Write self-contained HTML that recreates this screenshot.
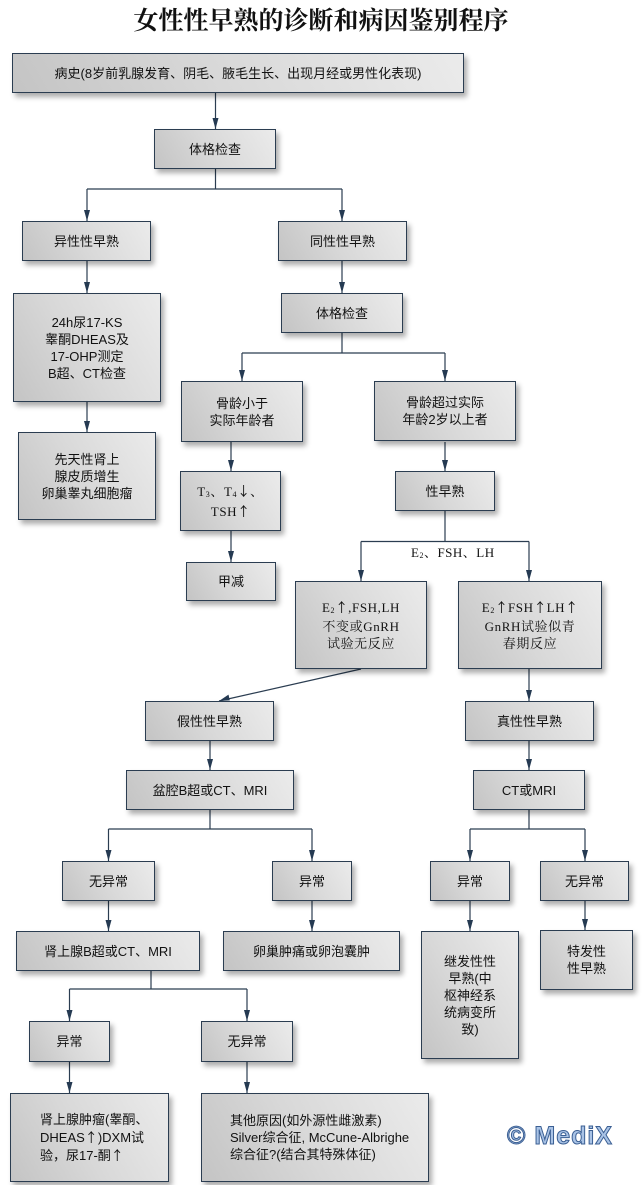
<!DOCTYPE html>
<html><head><meta charset="utf-8">
<style>
html,body{margin:0;padding:0;background:#fff;}
body{width:642px;height:1185px;position:relative;overflow:hidden;font-family:"Liberation Sans","Noto Sans CJK SC",sans-serif;color:#111;}
.t{position:absolute;left:0;width:642px;top:8px;text-align:center;font-family:"Liberation Serif","Noto Serif CJK SC",serif;font-size:25px;line-height:28px;font-weight:bold;color:#111;}
.b{position:absolute;box-sizing:border-box;border:1px solid #2b3d51;background:linear-gradient(60deg,#c4c4c4 0%,#d8d8d8 45%,#ebebeb 100%);box-shadow:3px 4px 5px rgba(0,0,0,0.33);display:flex;align-items:center;justify-content:center;text-align:center;font-size:13px;line-height:17px;}
.b > span{display:block;}
.s{font-family:"Liberation Serif","Noto Serif CJK SC",serif;letter-spacing:0.6px;}
.ar{font-family:"Noto Sans CJK SC",sans-serif;letter-spacing:0;}
.l{justify-content:flex-start;text-align:left;}
sub{font-size:8px;vertical-align:baseline;position:relative;top:1px;}
svg{position:absolute;left:0;top:0;}
.lbl{position:absolute;font-family:"Liberation Serif","Noto Serif CJK SC",serif;font-size:13px;line-height:15px;letter-spacing:0.5px;}
.wm{position:absolute;left:507px;top:1121px;font-family:"Liberation Sans",sans-serif;font-weight:bold;font-size:25px;line-height:30px;letter-spacing:1px;color:#a9c3e6;-webkit-text-stroke:1px #3b5f93;}
</style></head><body>
<div class="t">女性性早熟的诊断和病因鉴别程序</div>

<svg width="642" height="1185" viewBox="0 0 642 1185">
<g stroke="#2b3d51" stroke-width="1.2" fill="none">
<path d="M215.5 93V129"/>
<path d="M215.5 169V189M87 189H342M87 189V221M342 189V221"/>
<path d="M87 261V293"/>
<path d="M342 261V293"/>
<path d="M87 402V432"/>
<path d="M342 333V353M242 353H445M242 353V381M445 353V381"/>
<path d="M231 442V471"/>
<path d="M231 531V562"/>
<path d="M445 442V471"/>
<path d="M445 511V541.5M361 541.5H529M361 541.5V581M529 541.5V581"/>
<path d="M361 669L219 701"/>
<path d="M529 669V701"/>
<path d="M210 741V770"/>
<path d="M529 741V770"/>
<path d="M210 810V829M108.5 829H312M108.5 829V861M312 829V861"/>
<path d="M529 810V829M470 829H585M470 829V861M585 829V861"/>
<path d="M108.5 901V931"/>
<path d="M312 901V931"/>
<path d="M470 901V931"/>
<path d="M585 901V930"/>
<path d="M151 971V989M69.5 989H247M69.5 989V1021M247 989V1021"/>
<path d="M69.5 1062V1093"/>
<path d="M247 1062V1093"/>
</g>
<g fill="#253a52">
<polygon points="212.5,118 218.5,118 215.5,129"/>
<polygon points="84,210 90,210 87,221"/>
<polygon points="339,210 345,210 342,221"/>
<polygon points="84,282 90,282 87,293"/>
<polygon points="339,282 345,282 342,293"/>
<polygon points="84,421 90,421 87,432"/>
<polygon points="239,370 245,370 242,381"/>
<polygon points="442,370 448,370 445,381"/>
<polygon points="228,460 234,460 231,471"/>
<polygon points="228,551 234,551 231,562"/>
<polygon points="442,460 448,460 445,471"/>
<polygon points="358,570 364,570 361,581"/>
<polygon points="526,570 532,570 529,581"/>
<polygon points="219,701 228.5,694.6 229.8,700.4"/>
<polygon points="526,690 532,690 529,701"/>
<polygon points="207,759 213,759 210,770"/>
<polygon points="526,759 532,759 529,770"/>
<polygon points="105.5,850 111.5,850 108.5,861"/>
<polygon points="309,850 315,850 312,861"/>
<polygon points="467,850 473,850 470,861"/>
<polygon points="582,850 588,850 585,861"/>
<polygon points="105.5,920 111.5,920 108.5,931"/>
<polygon points="309,920 315,920 312,931"/>
<polygon points="467,920 473,920 470,931"/>
<polygon points="582,919 588,919 585,930"/>
<polygon points="66.5,1010 72.5,1010 69.5,1021"/>
<polygon points="244,1010 250,1010 247,1021"/>
<polygon points="66.5,1082 72.5,1082 69.5,1093"/>
<polygon points="244,1082 250,1082 247,1093"/>
</g>
</svg>

<div class="b" style="left:12px;top:53px;width:452px;height:40px;"><span>病史(8岁前乳腺发育、阴毛、腋毛生长、出现月经或男性化表现)</span></div>
<div class="b" style="left:154px;top:129px;width:122px;height:40px;"><span>体格检查</span></div>
<div class="b" style="left:22px;top:221px;width:129px;height:40px;"><span>异性性早熟</span></div>
<div class="b" style="left:278px;top:221px;width:129px;height:40px;"><span>同性性早熟</span></div>
<div class="b" style="left:13px;top:293px;width:148px;height:109px;"><span>24h尿17-KS<br>睾酮DHEAS及<br>17-OHP测定<br>B超、CT检查</span></div>
<div class="b" style="left:18px;top:432px;width:138px;height:88px;"><span>先天性肾上<br>腺皮质增生<br>卵巢睾丸细胞瘤</span></div>
<div class="b" style="left:281px;top:293px;width:122px;height:40px;"><span>体格检查</span></div>
<div class="b" style="left:181px;top:381px;width:122px;height:61px;"><span>骨龄小于<br>实际年龄者</span></div>
<div class="b" style="left:374px;top:381px;width:142px;height:60px;"><span>骨龄超过实际<br>年龄2岁以上者</span></div>
<div class="b s" style="left:180px;top:471px;width:101px;height:60px;"><span>T<sub>3</sub>、T<sub>4</sub><span class="ar">↓</span>、<br>TSH<span class="ar">↑</span></span></div>
<div class="b" style="left:186px;top:562px;width:90px;height:39px;"><span>甲减</span></div>
<div class="b" style="left:395px;top:471px;width:100px;height:40px;"><span>性早熟</span></div>
<div class="lbl" style="left:411px;top:545px;">E<sub>2</sub>、FSH、LH</div>
<div class="b s" style="left:295px;top:581px;width:132px;height:88px;"><span>E<sub>2</sub><span class="ar">↑</span>,FSH,LH<br>不变或GnRH<br>试验无反应</span></div>
<div class="b s" style="left:458px;top:581px;width:144px;height:88px;"><span>E<sub>2</sub><span class="ar">↑</span>FSH<span class="ar">↑</span>LH<span class="ar">↑</span><br>GnRH试验似青<br>春期反应</span></div>
<div class="b" style="left:145px;top:701px;width:129px;height:40px;"><span>假性性早熟</span></div>
<div class="b" style="left:465px;top:701px;width:129px;height:40px;"><span>真性性早熟</span></div>
<div class="b" style="left:126px;top:770px;width:168px;height:40px;"><span>盆腔B超或CT、MRI</span></div>
<div class="b" style="left:473px;top:770px;width:112px;height:40px;"><span>CT或MRI</span></div>
<div class="b" style="left:62px;top:861px;width:93px;height:40px;"><span>无异常</span></div>
<div class="b" style="left:272px;top:861px;width:80px;height:40px;"><span>异常</span></div>
<div class="b" style="left:430px;top:861px;width:80px;height:40px;"><span>异常</span></div>
<div class="b" style="left:540px;top:861px;width:89px;height:40px;"><span>无异常</span></div>
<div class="b" style="left:16px;top:931px;width:184px;height:40px;"><span>肾上腺B超或CT、MRI</span></div>
<div class="b" style="left:223px;top:931px;width:177px;height:40px;"><span>卵巢肿痛或卵泡囊肿</span></div>
<div class="b" style="left:421px;top:931px;width:98px;height:128px;"><span>继发性性<br>早熟(中<br>枢神经系<br>统病变所<br>致)</span></div>
<div class="b" style="left:540px;top:930px;width:93px;height:60px;"><span>特发性<br>性早熟</span></div>
<div class="b" style="left:29px;top:1021px;width:81px;height:41px;"><span>异常</span></div>
<div class="b" style="left:201px;top:1021px;width:92px;height:41px;"><span>无异常</span></div>
<div class="b l" style="left:10px;top:1093px;width:159px;height:89px;padding-left:29px;"><span>肾上腺肿瘤(睾酮、<br>DHEAS<span class="ar">↑</span>)DXM试<br>验，尿17-酮<span class="ar">↑</span></span></div>
<div class="b l" style="left:201px;top:1093px;width:228px;height:89px;padding-left:28px;"><span>其他原因(如外源性雌激素)<br>Silver综合征, McCune-Albrighe<br>综合征?(结合其特殊体征)</span></div>
<div class="wm">© MediX</div>
</body></html>
